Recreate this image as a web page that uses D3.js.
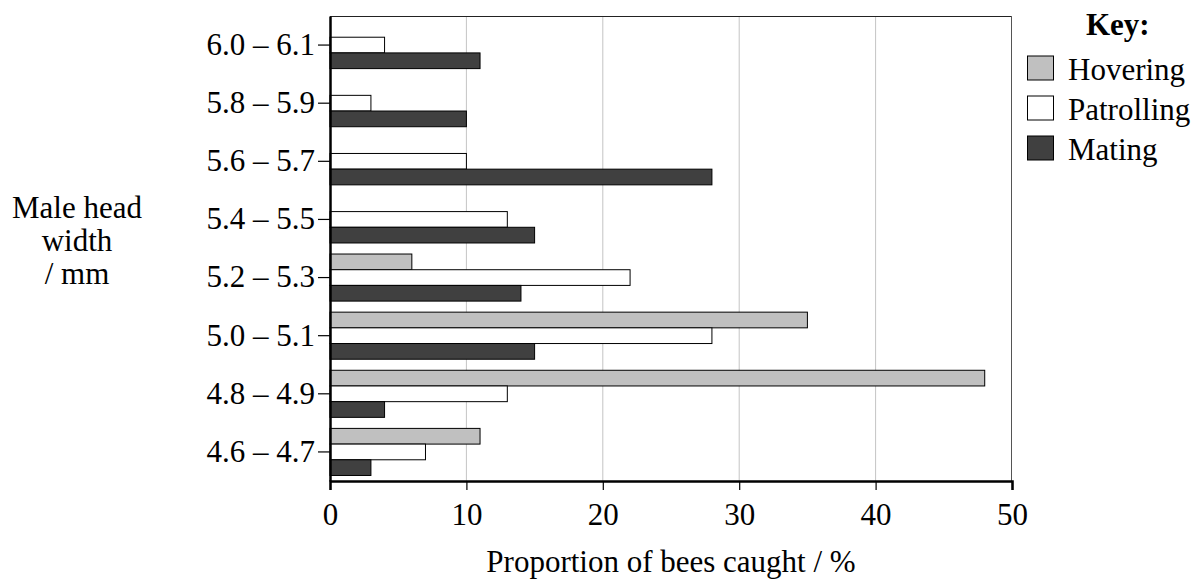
<!DOCTYPE html>
<html>
<head>
<meta charset="utf-8">
<script src="https://cdn.jsdelivr.net/npm/d3@7"></script>
<style>
  body { margin: 0; background: #fff; }
  text { font-family: "Liberation Serif", "Times New Roman", serif; fill: #000; }
</style>
</head>
<body>
<div id="chart"></div>
<script>
var categories = ['6.0 \u2013 6.1', '5.8 \u2013 5.9', '5.6 \u2013 5.7', '5.4 \u2013 5.5',
                  '5.2 \u2013 5.3', '5.0 \u2013 5.1', '4.8 \u2013 4.9', '4.6 \u2013 4.7'];
var seriesNames = ['Hovering', 'Patrolling', 'Mating'];
var hovering   = [0, 0, 0, 0, 6, 35, 48, 11];
var patrolling = [4, 3, 10, 13, 22, 28, 13, 7];
var mating     = [11, 10, 28, 15, 14, 15, 4, 3];
var xTicks = [0, 10, 20, 30, 40, 50];
var colors = ['#c0c0c0', '#ffffff', '#404040'];

var seriesValues = [hovering, patrolling, mating];

var width = 1202, height = 581;
var plotLeft = 330, plotRight = 1012, plotTop = 16, plotBottom = 481;
var fontSize = '31px';

var svg = d3.select('#chart')
    .append('svg')
    .attr('width', width)
    .attr('height', height);

var x = d3.scaleLinear().domain([0, 50]).range([plotLeft, plotRight]);
var y = d3.scaleBand().domain(categories).range([plotTop, plotBottom])
    .paddingInner(0.19).paddingOuter(0.095);
var ySub = d3.scaleBand().domain(seriesNames).range([0, y.bandwidth()]);

// grid
svg.append('g')
    .selectAll('line')
    .data(xTicks.slice(1, -1))
    .enter().append('line')
    .attr('x1', function(d) { return x(d); })
    .attr('x2', function(d) { return x(d); })
    .attr('y1', plotTop)
    .attr('y2', plotBottom)
    .attr('stroke', '#c4c4c4')
    .attr('stroke-width', 1);

// frame top / right
svg.append('line')
    .attr('x1', plotLeft).attr('x2', plotRight)
    .attr('y1', plotTop + 0.5).attr('y2', plotTop + 0.5)
    .attr('stroke', '#222').attr('stroke-width', 1);
svg.append('line')
    .attr('x1', plotRight - 0.5).attr('x2', plotRight - 0.5)
    .attr('y1', plotTop).attr('y2', plotBottom)
    .attr('stroke', '#555').attr('stroke-width', 1);

// bars
var rows = categories.map(function(c, i) {
    return seriesNames.map(function(s, j) {
        return { cat: c, series: s, value: seriesValues[j][i], color: colors[j] };
    });
});

svg.append('g')
    .selectAll('g')
    .data(rows)
    .enter().append('g')
    .attr('transform', function(d) { return 'translate(0,' + y(d[0].cat) + ')'; })
    .selectAll('rect')
    .data(function(d) { return d.filter(function(e) { return e.value > 0; }); })
    .enter().append('rect')
    .attr('x', x(0))
    .attr('y', function(d) { return ySub(d.series); })
    .attr('width', function(d) { return x(d.value) - x(0); })
    .attr('height', ySub.bandwidth())
    .attr('fill', function(d) { return d.color; })
    .attr('stroke', '#000')
    .attr('stroke-width', 1);

// axes
var xAxis = svg.append('g')
    .attr('transform', 'translate(0,' + plotBottom + ')')
    .call(d3.axisBottom(x).tickValues(xTicks).tickSize(9).tickPadding(13));
xAxis.select('.domain').attr('stroke-width', 2.5);
xAxis.selectAll('.tick line').attr('stroke-width', 1.2);
xAxis.selectAll('text').style('font-size', fontSize).attr('fill', '#000')
    .style('font-family', '"Liberation Serif", serif');

var yAxis = svg.append('g')
    .attr('transform', 'translate(' + plotLeft + ',0)')
    .call(d3.axisLeft(y).tickSize(12).tickSizeOuter(0).tickPadding(3));
yAxis.select('.domain').attr('stroke-width', 2.5);
yAxis.selectAll('.tick line').attr('stroke-width', 1.2);
yAxis.selectAll('text').style('font-size', fontSize).attr('fill', '#000')
    .style('font-family', '"Liberation Serif", serif');

// axis titles
svg.append('text')
    .attr('x', x(25))
    .attr('y', 572)
    .attr('text-anchor', 'middle')
    .style('font-size', fontSize)
    .text('Proportion of bees caught / %');

var yTitle = ['Male head', 'width', '/ mm'];
svg.append('g')
    .selectAll('text')
    .data(yTitle)
    .enter().append('text')
    .attr('x', 77)
    .attr('y', function(d, i) { return 218 + i * 33; })
    .attr('text-anchor', 'middle')
    .style('font-size', fontSize)
    .text(function(d) { return d; });

// key
var legend = svg.append('g');
legend.append('text')
    .attr('x', 1086)
    .attr('y', 35)
    .style('font-size', fontSize)
    .style('font-weight', 'bold')
    .text('Key:');

var items = legend.selectAll('g.item')
    .data(seriesNames)
    .enter().append('g')
    .attr('class', 'item')
    .attr('transform', function(d, i) { return 'translate(0,' + (80 + i * 40) + ')'; });
items.append('rect')
    .attr('x', 1027.5)
    .attr('y', -24)
    .attr('width', 26)
    .attr('height', 24)
    .attr('fill', function(d, i) { return colors[i]; })
    .attr('stroke', '#000')
    .attr('stroke-width', 1);
items.append('text')
    .attr('x', 1068)
    .attr('y', 0)
    .style('font-size', fontSize)
    .text(function(d) { return d; });
</script>
</body>
</html>
